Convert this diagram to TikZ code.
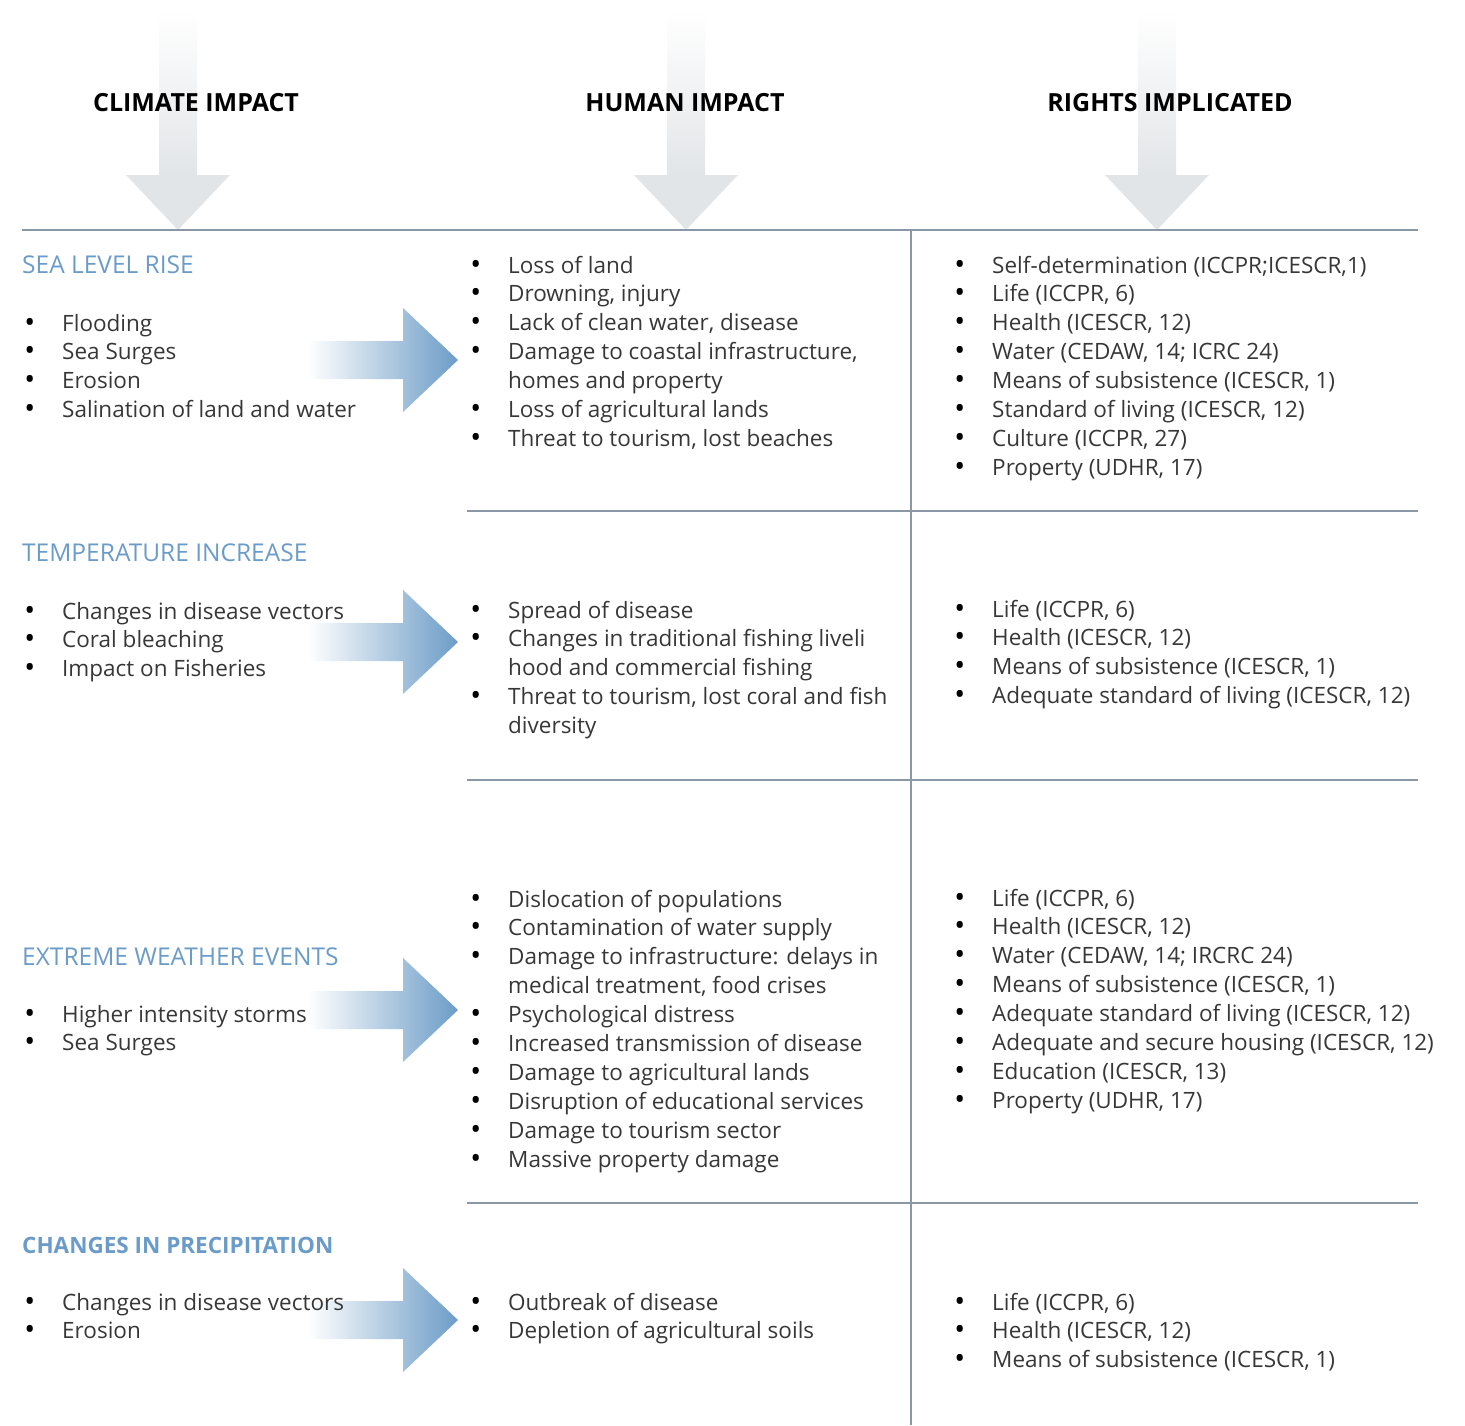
\documentclass[tikz,border=0pt]{standalone}
\usepackage{fontspec}
\setmainfont{Open Sans}
\usepackage{tikz}
\usetikzlibrary{positioning}
\definecolor{rulegray}{RGB}{138,152,165}
\definecolor{arrowgray}{RGB}{226,229,232}
\definecolor{arrowblue}{RGB}{108,156,199}
\definecolor{titleblue}{RGB}{107,155,200}
\definecolor{txtgray}{RGB}{55,55,55}
\tikzset{
  head/.style={font=\fontsize{25}{28}\selectfont\bfseries,text=black,inner sep=0},
  cause/.style={anchor=base west,font=\fontsize{24.5}{28}\selectfont,text=titleblue,inner sep=0},
  lst/.style={anchor=base west,font=\fontsize{22.5}{28.9}\selectfont,text=txtgray,inner sep=0},
  rule/.style={rulegray,line width=1.6pt}
}
\newcommand{\bl}{\llap{\raisebox{-1pt}{\textcolor{black}{\fontsize{29}{0}\selectfont\textbullet}}\hspace{27pt}}}
\newcommand{\items}[1]{\begin{tabular}[t]{@{}l@{}}#1\end{tabular}}
\newcommand{\dnarrow}[1]{%
  \shade[top color=white,middle color=arrowgray,bottom color=arrowgray] ({#1-19},10) rectangle ({#1+19},176);
  \fill[arrowgray] ({#1-52},175) -- ({#1+52},175) -- (#1,230) -- cycle;}
\newcommand{\rtarrow}[1]{%
  \shade[left color=white,right color=arrowblue] (308,{#1-19}) -- (403,{#1-19}) -- (403,{#1-52})
    -- (458,#1) -- (403,{#1+52}) -- (403,{#1+19}) -- (308,{#1+19}) -- cycle;}

\begin{document}
\begin{tikzpicture}[x=1pt,y=-1pt]
  \useasboundingbox (0,0) rectangle (1465,1425);
  \dnarrow{178}
  \dnarrow{686}
  \dnarrow{1157}
  \rtarrow{360}
  \rtarrow{642}
  \rtarrow{1010}
  \rtarrow{1320}
  \draw[rule] (22,230) -- (1418,230);
  \draw[rule] (911,230) -- (911,1425);
  \foreach \y in {511,780,1203}
    \draw[rule] (467,\y) -- (1418,\y);

  \node[head] (hclim)   at (196,103)  {CLIMATE IMPACT};
  \node[head] (hhum)    at (685,103)  {HUMAN IMPACT};
  \node[head] (hrights) at (1170,103) {RIGHTS IMPLICATED};

  % climate impact
  \node[cause] (c1) at (22,273)  {SEA LEVEL RISE};
  \node[cause] (c2) at (22,561)  {TEMPERATURE INCREASE};
  \node[cause] (c3) at (22,965)  {EXTREME WEATHER EVENTS};
  \node[cause,font=\fontsize{22.5}{28}\selectfont\bfseries] (c4) at (22,1253) {CHANGES IN PRECIPITATION};
  \node[lst] (ci1) at (62,331)  {\items{\bl Flooding\\ \bl Sea Surges\\ \bl Erosion\\ \bl Salination of land and water}};
  \node[lst] (ci2) at (62,619)  {\items{\bl Changes in disease vectors\\ \bl Coral bleaching\\ \bl Impact on Fisheries}};
  \node[lst] (ci3) at (62,1022) {\items{\bl Higher intensity storms\\ \bl Sea Surges}};
  \node[lst] (ci4) at (62,1310) {\items{\bl Changes in disease vectors\\ \bl Erosion}};

  % human impact
  \node[lst] (hi1) at (508,273) {\items{\bl Loss of land\\ \bl Drowning, injury\\ \bl Lack of clean water, disease\\
    \bl Damage to coastal infrastructure,\\ homes and property\\ \bl Loss of agricultural lands\\
    \bl Threat to tourism, lost beaches}};
  \node[lst] (hi2) at (508,618) {\items{\bl Spread of disease\\ \bl Changes in traditional fishing liveli\\
    hood and commercial fishing\\ \bl Threat to tourism, lost coral and fish\\ diversity}};
  \node[lst] (hi3) at (508,907) {\items{\bl Dislocation of populations\\ \bl Contamination of water supply\\
    \bl Damage to infrastructure: delays in\\ medical treatment, food crises\\ \bl Psychological distress\\
    \bl Increased transmission of disease\\ \bl Damage to agricultural lands\\
    \bl Disruption of educational services\\ \bl Damage to tourism sector\\ \bl Massive property damage}};
  \node[lst] (hi4) at (508,1310) {\items{\bl Outbreak of disease\\ \bl Depletion of agricultural soils}};

  % rights implicated
  \node[lst] (ri1) at (992,273) {\items{\bl Self-determination (ICCPR;ICESCR,1)\\ \bl Life (ICCPR, 6)\\
    \bl Health (ICESCR, 12)\\ \bl Water (CEDAW, 14; ICRC 24)\\ \bl Means of subsistence (ICESCR, 1)\\
    \bl Standard of living (ICESCR, 12)\\ \bl Culture (ICCPR, 27)\\ \bl Property (UDHR, 17)}};
  \node[lst] (ri2) at (992,617) {\items{\bl Life (ICCPR, 6)\\ \bl Health (ICESCR, 12)\\
    \bl Means of subsistence (ICESCR, 1)\\ \bl Adequate standard of living (ICESCR, 12)}};
  \node[lst] (ri3) at (992,906) {\items{\bl Life (ICCPR, 6)\\ \bl Health (ICESCR, 12)\\
    \bl Water (CEDAW, 14; IRCRC 24)\\ \bl Means of subsistence (ICESCR, 1)\\
    \bl Adequate standard of living (ICESCR, 12)\\ \bl Adequate and secure housing (ICESCR, 12)\\
    \bl Education (ICESCR, 13)\\ \bl Property (UDHR, 17)}};
  \node[lst] (ri4) at (992,1310) {\items{\bl Life (ICCPR, 6)\\ \bl Health (ICESCR, 12)\\
    \bl Means of subsistence (ICESCR, 1)}};
\end{tikzpicture}
\end{document}
